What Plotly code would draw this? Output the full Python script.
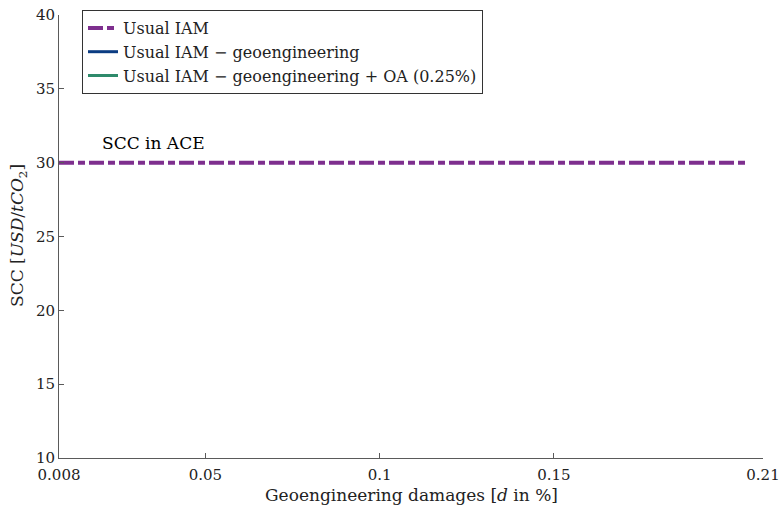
import plotly.graph_objects as go

# Data
x_damages = [0.008, 0.2055]
scc_usual = [30, 30]
x_geo = [None]
scc_geo = [None]
x_geo_oa = [None]
scc_geo_oa = [None]

x_tickvals = [0.008, 0.05, 0.1, 0.15, 0.21]
x_ticktext = ["0.008", "0.05", "0.1", "0.15", "0.21"]
y_tickvals = [10, 15, 20, 25, 30, 35, 40]

FONT = "DejaVu Serif, Liberation Serif, serif"
purple = "#7E2F8E"
blue = "#0B3C82"
green = "#2E8A6B"

fig = go.Figure()
fig.add_trace(go.Scatter(x=x_damages, y=scc_usual, mode="lines", name="Usual IAM",
                         line=dict(color=purple, width=4, dash="15px,4px,7px,4px")))
fig.add_trace(go.Scatter(x=x_geo, y=scc_geo, mode="lines", name="Usual IAM − geoengineering",
                         line=dict(color=blue, width=3)))
fig.add_trace(go.Scatter(x=x_geo_oa, y=scc_geo_oa, mode="lines",
                         name="Usual IAM − geoengineering + OA (0.25%)",
                         line=dict(color=green, width=3)))

fig.add_annotation(x=0.0198, y=31.3, xref="x", yref="y", text="SCC in ACE",
                   showarrow=False, xanchor="left", yanchor="middle",
                   font=dict(family=FONT, size=17, color="black"))

pw = 779 - 59 - 16
ph = 508 - 15 - 50
fig.add_annotation(x=(411 - 59) / pw, y=(508 - 50 - 495) / ph, xref="paper", yref="paper",
                   text="Geoengineering damages [<i>d</i> in %]", showarrow=False,
                   xanchor="center", yanchor="middle",
                   font=dict(family=FONT, size=17, color="#222"))
fig.add_annotation(x=(18 - 59) / pw, y=(508 - 50 - 236) / ph, xref="paper", yref="paper",
                   text="SCC [<i>USD</i>/<i>tCO</i><sub>2</sub>]", showarrow=False,
                   textangle=-90, xanchor="center", yanchor="middle",
                   font=dict(family=FONT, size=17, color="#222"))

axis_common = dict(showgrid=False, zeroline=False, showline=True, linecolor="#5a5a5a",
                   linewidth=1, ticks="inside", ticklen=5, tickcolor="#5a5a5a",
                   tickfont=dict(family=FONT, size=15, color="#222"), mirror=False,
                   automargin=False, ticklabeloverflow="allow")

fig.update_layout(
    width=779, height=508,
    margin=dict(l=59, r=16, t=15, b=50, autoexpand=False),
    paper_bgcolor="white", plot_bgcolor="white",
    font=dict(family=FONT, size=16, color="#222"),
    xaxis=dict(range=[0.008, 0.21], tickvals=x_tickvals, ticktext=x_ticktext,
               ticklabelstandoff=3, **axis_common),
    yaxis=dict(range=[10, 40], tickvals=y_tickvals, **axis_common),
    legend=dict(x=82/779, y=1 - 10/508, xref="container", yref="container",
                xanchor="left", yanchor="top",
                bordercolor="#333", borderwidth=1, bgcolor="white",
                font=dict(family=FONT, size=16, color="#222"),
                itemwidth=30, tracegroupgap=0),
    showlegend=True,
)

fig.write_html("out.html")
